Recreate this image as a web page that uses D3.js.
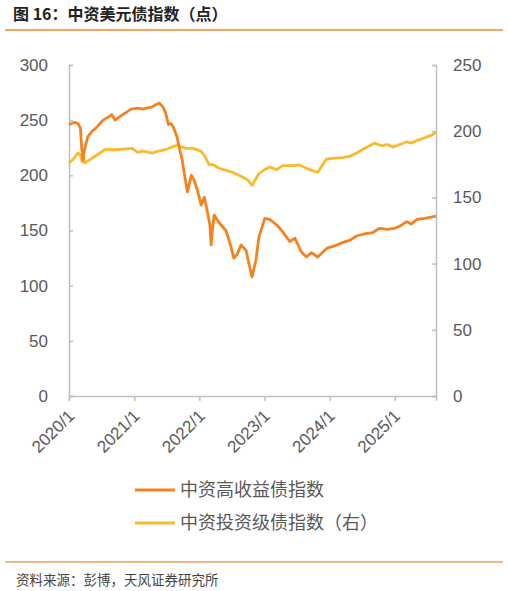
<!DOCTYPE html>
<html>
<head>
<meta charset="utf-8">
<title>中资美元债指数</title>
<script src="https://d3js.org/d3.v7.min.js"></script>
<style>
  body { margin: 0; background: #fff; }
  text { font-family: "Liberation Sans", "Noto Sans CJK SC", sans-serif; }
  .cn { font-family: "Noto Sans CJK SC", "Liberation Sans", sans-serif; }
</style>
</head>
<body>
<script>

  // 中资高收益债指数 (left axis)
  let hyDates = ["2020-01-01","2020-01-15","2020-02-01","2020-02-20","2020-03-05","2020-03-12","2020-03-20","2020-03-28",
    "2020-04-15","2020-05-10","2020-06-01","2020-07-10","2020-08-10","2020-08-28","2020-09-15","2020-10-10",
    "2020-10-28","2020-11-25","2020-12-15","2021-01-20","2021-02-20","2021-03-10","2021-04-12","2021-05-01",
    "2021-05-22","2021-06-10","2021-06-25","2021-07-12","2021-07-25","2021-08-08","2021-08-30","2021-09-16",
    "2021-09-27","2021-10-08","2021-10-26","2021-11-17","2021-12-02","2021-12-20","2022-01-11","2022-01-29",
    "2022-02-15","2022-03-01","2022-03-08","2022-03-15","2022-03-25","2022-04-22","2022-05-30","2022-06-15",
    "2022-06-29","2022-07-13","2022-07-31","2022-08-23","2022-09-20","2022-10-05","2022-10-23","2022-11-14",
    "2022-12-01","2023-01-03","2023-01-30","2023-03-11","2023-04-13","2023-05-23","2023-06-21","2023-07-27",
    "2023-08-25","2023-09-21","2023-10-27","2023-12-17","2024-01-30","2024-03-13","2024-04-21","2024-06-01",
    "2024-07-15","2024-08-29","2024-10-08","2024-11-21","2025-01-01","2025-01-30","2025-03-08","2025-04-04",
    "2025-05-04","2025-06-18","2025-08-20"];
  let hyValues = [246,247,248,247,243,225,214,223,
    235,240,243,250,253,255,250,253,
    255,258,260,261,260,261,262,264,
    265.5,262,257,246,247,244,234,221,
    214,202,185,200,196,187,173,180,
    167,155,137,150,164,157,150,142,
    134,125,128,137,132,120.5,108,123,
    144,161,160,155,149,140,143,130.5,
    126,130,126,134,136,139,141,145,
    147,148,152,151,152,154,158,156,
    160,161,163];

  // 中资投资级债指数（右）
  let igDates = ["2020-01-01","2020-01-25","2020-02-20","2020-03-05","2020-03-15","2020-03-20","2020-03-28","2020-04-20",
    "2020-05-20","2020-07-20","2020-09-15","2020-11-01","2020-12-20","2021-01-20","2021-02-20","2021-04-10",
    "2021-05-15","2021-06-25","2021-08-30","2021-10-15","2021-11-28","2022-01-10","2022-02-01","2022-02-25",
    "2022-03-15","2022-04-22","2022-06-10","2022-07-05","2022-09-05","2022-10-01","2022-10-23","2022-12-01",
    "2023-01-03","2023-01-30","2023-03-11","2023-04-13","2023-06-10","2023-07-15","2023-08-25","2023-10-01",
    "2023-10-27","2023-11-20","2023-12-15","2024-01-20","2024-03-13","2024-04-21","2024-06-01","2024-07-15",
    "2024-09-08","2024-10-20","2024-11-21","2024-12-20","2025-01-30","2025-03-08","2025-04-04","2025-05-04",
    "2025-06-18","2025-07-25","2025-08-20"];
  let igValues = [176,179,183.5,182,177,180,176,178,
    180.5,186,186,186.5,187,184,185,183.5,
    185,186,189.6,187,187,185,181,174.5,
    175,172,170,169,165,163,159,168,
    171,173,171,174,174,174.5,172,170,
    169,174,179,179.5,180,181,183.5,187,
    191,189,190,188,190,192,191,193,
    195,197,199];

  let leftTicks = [0,50,100,150,200,250,300];
  let rightTicks = [0,50,100,150,200,250];
  let yearTicks = ["2020-01-01","2021-01-01","2022-01-01","2023-01-01","2024-01-01","2025-01-01"];
  let legendLabels = ["中资高收益债指数","中资投资级债指数（右）"];
  let seriesColors = ["#f5821f","#fbba2c"];

  let width = 508;
  let height = 591;
  let margin = {top: 65, right: 72, bottom: 195, left: 69};
  let parse = d3.timeParse("%Y-%m-%d");

  let svg = d3.select("body").append("svg")
      .attr("width", width)
      .attr("height", height);

  // title + rules
  svg.append("text")
      .attr("class","cn")
      .attr("x", 13)
      .attr("y", 20)
      .attr("font-size","16px")
      .attr("font-weight","bold")
      .attr("fill","#222")
      .text("图 16：中资美元债指数（点）");

  svg.append("line")
      .attr("x1",5).attr("x2",503)
      .attr("y1",30).attr("y2",30)
      .attr("stroke","#f28a2e")
      .attr("stroke-width",1.5);

  svg.append("line")
      .attr("x1",5).attr("x2",503)
      .attr("y1",562).attr("y2",562)
      .attr("stroke","#f2a05a")
      .attr("stroke-width",1.5);

  svg.append("text")
      .attr("class","cn")
      .attr("x", 16)
      .attr("y", 585)
      .attr("font-size","13.5px")
      .attr("fill","#444")
      .text("资料来源：彭博，天风证券研究所");

  // scales
  let x = d3.scaleTime()
      .domain([parse("2020-01-01"), parse("2025-08-20")])
      .range([margin.left, width - margin.right]);

  let yLeft = d3.scaleLinear()
      .domain([0,300])
      .range([height - margin.bottom, margin.top]);

  let yRight = d3.scaleLinear()
      .domain([0,250])
      .range([height - margin.bottom, margin.top]);

  // axes
  let axisColor = "#bfbfbf";

  let gLeft = svg.append("g")
      .attr("transform","translate("+margin.left+",0)")
      .call(d3.axisRight(yLeft).tickValues(leftTicks).tickSize(4).tickFormat(d3.format("d")));
  gLeft.selectAll("text")
      .attr("x",-21)
      .attr("text-anchor","end");

  let gRight = svg.append("g")
      .attr("transform","translate("+(width - margin.right)+",0)")
      .call(d3.axisLeft(yRight).tickValues(rightTicks).tickSize(4).tickFormat(d3.format("d")));
  gRight.selectAll("text")
      .attr("x",17)
      .attr("text-anchor","start");

  let gBottom = svg.append("g")
      .attr("transform","translate(0,"+(height - margin.bottom)+")")
      .call(d3.axisBottom(x).tickValues(yearTicks.map(parse)).tickSize(5)
        .tickFormat(d => d3.timeFormat("%Y")(d) + "/1"));
  gBottom.selectAll("text")
      .attr("text-anchor","end")
      .attr("x",0).attr("y",0).attr("dy",0)
      .attr("transform","translate(6,21) rotate(-45)");

  [gLeft, gRight, gBottom].forEach(function(g){
    g.select(".domain").attr("stroke",axisColor).attr("stroke-width",1.5);
    g.selectAll(".tick line").attr("stroke",axisColor).attr("stroke-width",1.5);
    g.selectAll("text").attr("fill","#595959").attr("font-size","17px")
      .attr("font-family","'Liberation Sans', sans-serif");
  });

  // lines
  let hyData = hyDates.map((d,i) => ({date: parse(d), value: hyValues[i]}));
  let igData = igDates.map((d,i) => ({date: parse(d), value: igValues[i]}));

  let lineLeft = d3.line().x(d => x(d.date)).y(d => yLeft(d.value));
  let lineRight = d3.line().x(d => x(d.date)).y(d => yRight(d.value));

  svg.append("path")
      .datum(igData)
      .attr("d", lineRight)
      .attr("fill","none")
      .attr("stroke", seriesColors[1])
      .attr("stroke-width", 2.8)
      .attr("stroke-linejoin","round");

  svg.append("path")
      .datum(hyData)
      .attr("d", lineLeft)
      .attr("fill","none")
      .attr("stroke", seriesColors[0])
      .attr("stroke-width", 2.8)
      .attr("stroke-linejoin","round");

  // legend
  let legend = svg.append("g");
  legendLabels.forEach(function(label,i){
    let ly = 490 + i*33;
    legend.append("line")
      .attr("x1",135).attr("x2",175)
      .attr("y1",ly).attr("y2",ly)
      .attr("stroke",seriesColors[i])
      .attr("stroke-width",3);
    legend.append("text")
      .attr("class","cn")
      .attr("x",180)
      .attr("y",ly)
      .attr("dy","0.35em")
      .attr("font-size","18px")
      .attr("fill","#595959")
      .text(label);
  });

</script>
</body>
</html>
